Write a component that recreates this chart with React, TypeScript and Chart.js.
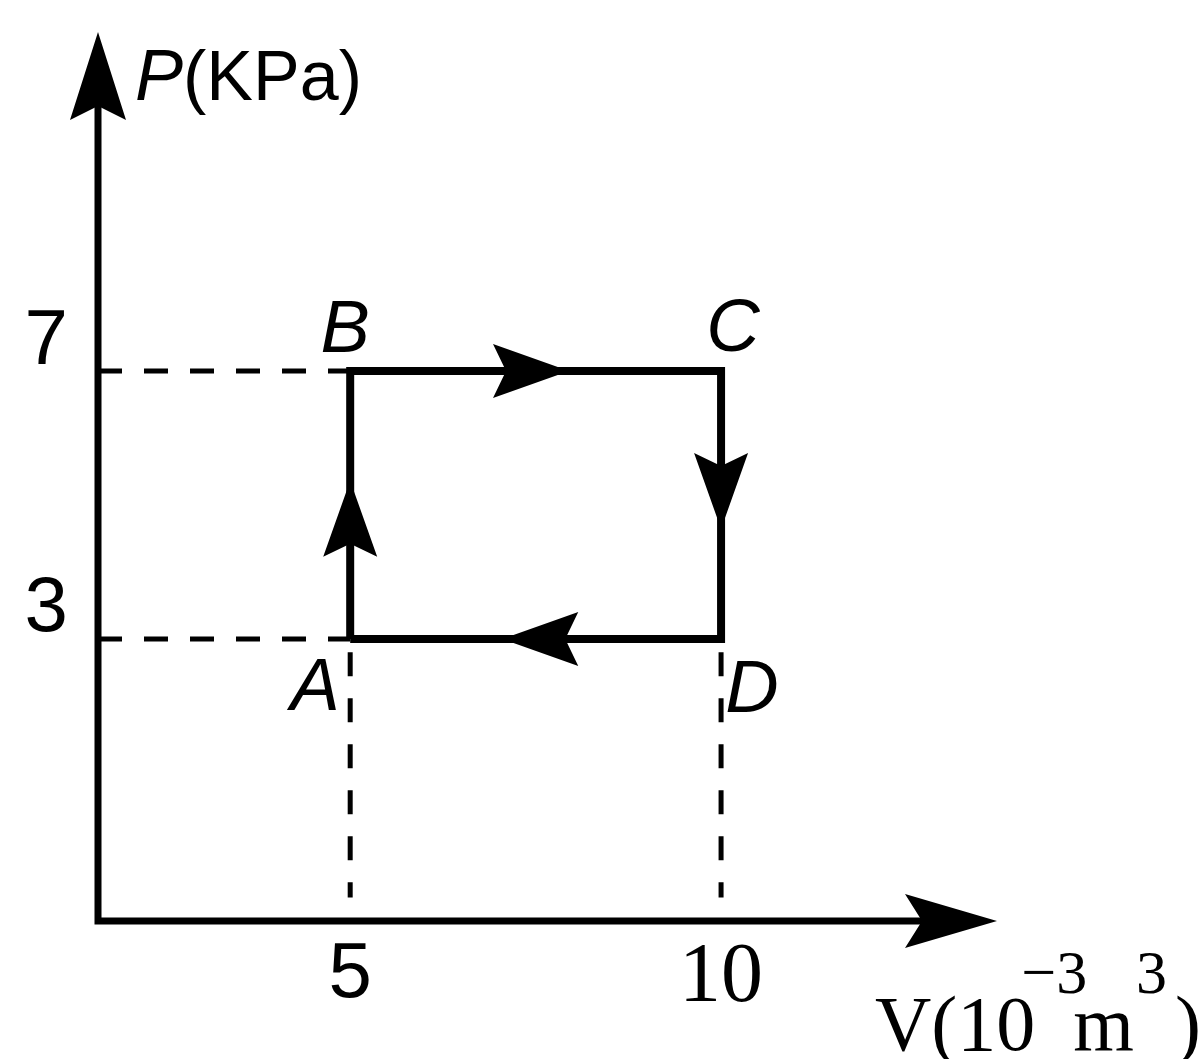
import React, { useEffect, useRef } from "react";
import { Chart, registerables } from "chart.js";

Chart.register(...registerables);

// ---- data ----
const STATE_NAMES = ["A", "B", "C", "D"];
const STATE_V = [5, 5, 10, 10]; // 10^-3 m^3
const STATE_P = [3, 7, 7, 3]; // kPa
const V_TICKS = [5, 10];
const P_TICKS = [3, 7];
const V_RANGE = [1.6, 13.72];
const P_RANGE = [-1.21, 12.06];

const SANS = "'Liberation Sans', Arial, sans-serif";
const SERIF = "'Liberation Serif', 'Times New Roman', serif";

function arrowHead(ctx: CanvasRenderingContext2D, tx: number, ty: number, dx: number, dy: number, len: number, hw: number, notch: number) {
  const px = -dy, py = dx;
  const bx = tx - dx * len, by = ty - dy * len;
  ctx.beginPath();
  ctx.moveTo(tx, ty);
  ctx.lineTo(bx + px * hw, by + py * hw);
  ctx.lineTo(tx - dx * (len - notch), ty - dy * (len - notch));
  ctx.lineTo(bx - px * hw, by - py * hw);
  ctx.closePath();
  ctx.fill();
}

const diagramPlugin = {
  id: "diagram",
  afterDraw(chart: any) {
    const ctx: CanvasRenderingContext2D = chart.ctx;
    const { left, right, top, bottom } = chart.chartArea;
    const xs = chart.scales.x, ys = chart.scales.y;
    ctx.save();
    ctx.fillStyle = "#000";
    ctx.strokeStyle = "#000";
    // axes
    ctx.lineWidth = 7;
    ctx.lineCap = "butt";
    ctx.beginPath();
    ctx.moveTo(left, top + 60);
    ctx.lineTo(left, bottom);
    ctx.lineTo(right - 60, bottom);
    ctx.stroke();
    arrowHead(ctx, left, top, 0, -1, 88, 28, 14);
    arrowHead(ctx, right, bottom, 1, 0, 92, 27, 17);

    // cycle arrows
    const frac = 0.59;
    for (let i = 0; i < STATE_V.length; i++) {
      const j = (i + 1) % STATE_V.length;
      const x1 = xs.getPixelForValue(STATE_V[i]), y1 = ys.getPixelForValue(STATE_P[i]);
      const x2 = xs.getPixelForValue(STATE_V[j]), y2 = ys.getPixelForValue(STATE_P[j]);
      const d = Math.hypot(x2 - x1, y2 - y1);
      const dx = (x2 - x1) / d, dy = (y2 - y1) / d;
      const tx = x1 + (x2 - x1) * frac, ty = y1 + (y2 - y1) * frac;
      arrowHead(ctx, tx, ty, dx, dy, 76, 27, 13);
    }

    // state labels
    const offs: Record<string, [number, number]> = {
      A: [-35, 71],
      B: [-5, -19],
      C: [12, -20],
      D: [31, 73],
    };
    ctx.font = `italic 74px ${SANS}`;
    ctx.textAlign = "center";
    ctx.textBaseline = "alphabetic";
    STATE_NAMES.forEach((n, i) => {
      const x = xs.getPixelForValue(STATE_V[i]);
      const y = ys.getPixelForValue(STATE_P[i]);
      ctx.fillText(n, x + offs[n][0], y + offs[n][1]);
    });

    // y-axis title P(KPa)
    ctx.textAlign = "left";
    let px = left + 37;
    const pb = top + 68;
    ctx.font = `italic 72px ${SANS}`;
    ctx.fillText("P", px, pb);
    px += ctx.measureText("P").width;
    ctx.font = `70px ${SANS}`;
    ctx.fillText("(KPa)", px, pb);

    // x-axis title V(10^-3 m^3)
    let vx = right - 122;
    const vb = bottom + 129;
    ctx.font = `78px ${SERIF}`;
    ctx.fillText("V(10", vx, vb);
    vx += ctx.measureText("V(10").width - 14;
    ctx.font = `62px ${SERIF}`;
    ctx.fillText("\u22123", vx, vb - 57);
    vx += ctx.measureText("\u22123").width - 14;
    ctx.font = `78px ${SERIF}`;
    ctx.fillText("m", vx, vb);
    vx += ctx.measureText("m").width + 2;
    ctx.font = `62px ${SERIF}`;
    ctx.fillText("3", vx, vb - 57);
    vx += ctx.measureText("3").width + 8;
    ctx.font = `78px ${SERIF}`;
    ctx.fillText(")", vx, vb);
    ctx.restore();
  },
};

export default function App() {
  const ref = useRef<HTMLCanvasElement | null>(null);
  useEffect(() => {
    if (!ref.current) return;
    const cycle = STATE_V.concat([STATE_V[0]]).map((v, i) => ({
      x: v,
      y: STATE_P.concat([STATE_P[0]])[i],
    }));
    const dash = { borderDash: [24, 22], borderWidth: 5, borderColor: "#000", pointRadius: 0, showLine: true, fill: false };
    const chart = new Chart(ref.current, {
      type: "scatter",
      data: {
        datasets: [
          { ...dash, data: [{ x: V_RANGE[0], y: STATE_P[1] }, { x: STATE_V[1], y: STATE_P[1] }] },
          { ...dash, data: [{ x: V_RANGE[0], y: STATE_P[0] }, { x: STATE_V[0], y: STATE_P[0] }] },
          { ...dash, data: [{ x: STATE_V[0], y: STATE_P[0] - 0.2 }, { x: STATE_V[0], y: P_RANGE[0] + 0.35 }] },
          { ...dash, data: [{ x: STATE_V[3], y: STATE_P[3] - 0.2 }, { x: STATE_V[3], y: P_RANGE[0] + 0.35 }] },
          {
            data: cycle,
            showLine: true,
            borderColor: "#000",
            borderWidth: 8,
            pointRadius: 0,
            borderJoinStyle: "miter",
            fill: false,
          },
        ] as any,
      },
      options: {
        responsive: false,
        animation: false,
        layout: { padding: { left: 0, right: 207, top: 32, bottom: 0 } },
        plugins: { legend: { display: false }, tooltip: { enabled: false } },
        scales: {
          x: {
            type: "linear",
            min: V_RANGE[0],
            max: V_RANGE[1],
            grid: { display: false, drawTicks: false },
            border: { display: false },
            afterBuildTicks: (s: any) => {
              s.ticks = V_TICKS.map((v) => ({ value: v }));
            },
            afterFit: (s: any) => {
              s.height = 138;
              s.paddingLeft = 0;
              s.paddingRight = 0;
            },
            ticks: {
              color: "#000",
              padding: 8,
              maxRotation: 0,
              autoSkip: false,
              font: (c: any) =>
                c.tick && c.tick.value === 10
                  ? { family: SERIF, size: 84 }
                  : { family: SANS, size: 78 },
            },
          },
          y: {
            type: "linear",
            min: P_RANGE[0],
            max: P_RANGE[1],
            grid: { display: false, drawTicks: false },
            border: { display: false },
            afterBuildTicks: (s: any) => {
              s.ticks = P_TICKS.map((v) => ({ value: v }));
            },
            afterFit: (s: any) => {
              s.width = 98;
              s.paddingTop = 0;
              s.paddingBottom = 0;
            },
            ticks: {
              color: "#000",
              padding: 30,
              labelOffset: -29,
              autoSkip: false,
              font: { family: SANS, size: 78 },
            },
          },
        },
      } as any,
      plugins: [diagramPlugin],
    });
    return () => chart.destroy();
  }, []);
  return (
    <div style={{ position: "fixed", left: 0, top: 0, width: 1204, height: 1059, background: "#fff" }}>
      <canvas ref={ref} width={1204} height={1059} style={{ display: "block" }} />
    </div>
  );
}
